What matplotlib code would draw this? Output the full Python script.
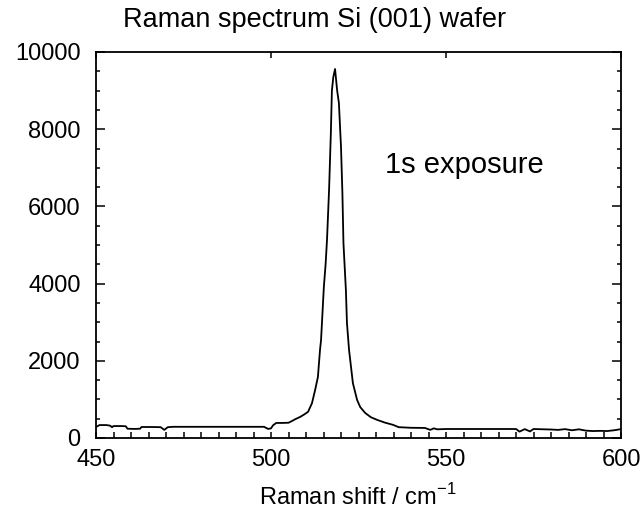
import matplotlib
matplotlib.use("Agg")
import matplotlib.pyplot as plt
from matplotlib.ticker import MultipleLocator

plt.rcParams['font.family'] = ['Liberation Sans', 'DejaVu Sans']
plt.rcParams['mathtext.fontset'] = 'custom'
plt.rcParams['mathtext.rm'] = 'Liberation Sans'

# --- data ---
raman_shift = [450, 451, 452, 453, 454, 454.6, 455, 457, 458.5, 459, 461, 462.6,
               463, 466, 468.5, 469.5, 470.5, 472, 476, 480, 484, 488, 492, 496,
               498, 499.2, 500, 500.6, 501.5, 503, 505, 506, 507, 508.3, 509.5,
               510.6, 511.7, 512.6, 513.4, 514.0, 514.3, 515.1, 515.6, 516.0,
               516.6, 517.1, 517.4, 517.8, 518.3, 518.9, 519.4, 520.0, 520.4,
               520.7, 521.4, 521.7, 522.3, 523.4, 524.6, 525.5, 526.9, 528.5,
               530.3, 532.5, 534.9, 536.5, 540, 544, 545.5, 546.5, 547.5, 550,
               554, 558, 562, 566, 570, 571, 572.5, 574, 575, 578, 580, 582, 584,
               586, 588, 590, 592, 594, 596, 598, 600]
counts = [285, 335, 335, 335, 320, 280, 310, 310, 305, 240, 235, 240,
          285, 285, 280, 210, 280, 290, 290, 290, 290, 290, 290, 290,
          290, 235, 250, 330, 390, 390, 395, 440, 490, 545, 610,
          680, 900, 1240, 1580, 2280, 2540, 3910, 4500, 5130,
          6450, 7900, 9000, 9350, 9560, 9000, 8680, 7540, 6350,
          5050, 3830, 2980, 2280, 1420, 985, 800, 650, 540,
          470, 400, 340, 280, 265, 260, 210, 250, 225, 233,
          233, 233, 233, 233, 233, 165, 230, 170, 233, 225, 220, 210, 230,
          200, 225, 190, 180, 185, 180, 200, 230]

x_ticks = [450, 500, 550, 600]
y_ticks = [0, 2000, 4000, 6000, 8000, 10000]

fig = plt.figure(figsize=(6.41, 5.2), dpi=100)
ax = fig.add_axes([96 / 641, 1 - 438 / 520, 525 / 641, 386 / 520])

ax.plot(raman_shift, counts, color='black', linewidth=1.3)

ax.set_xlim(450, 600)
ax.set_ylim(0, 10000)
ax.set_xticks(x_ticks)
ax.set_yticks(y_ticks)
ax.xaxis.set_minor_locator(MultipleLocator(5))
ax.yaxis.set_minor_locator(MultipleLocator(500))

ax.tick_params(which='both', direction='in', top=True, right=True, width=1.1)
ax.tick_params(which='major', axis='x', length=4, pad=8, labelsize=17)
ax.tick_params(which='major', axis='y', length=6.5, pad=11, labelsize=17)
ax.tick_params(which='minor', axis='x', length=4, top=False)
ax.tick_params(which='minor', axis='y', length=3)
for s in ax.spines.values():
    s.set_linewidth(1.3)

ax.text(532.5, 7070, '1s exposure', fontsize=21, va='center', ha='left')

fig.text(315 / 641, 1 - 20 / 520, 'Raman spectrum Si (001) wafer',
         fontsize=19.5, ha='center', va='center')
fig.text(358 / 641, 1 - 497 / 520, r'Raman shift / cm$^{\mathregular{-1}}$',
         fontsize=17, ha='center', va='center')

fig.savefig('out.png', dpi=100)
